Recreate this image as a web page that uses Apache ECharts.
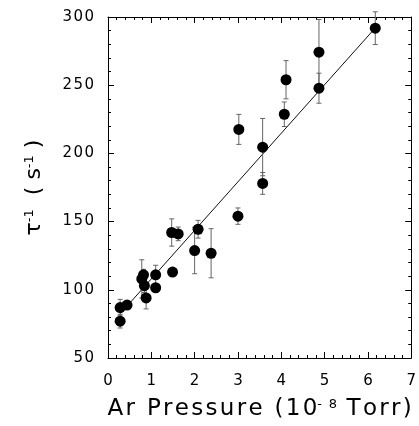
<!DOCTYPE html>
<html>
<head>
<meta charset="utf-8">
<script src="https://cdn.jsdelivr.net/npm/echarts@6/dist/echarts.min.js"></script>
<style>
  html, body { margin: 0; padding: 0; background: #fff; }
  #chart { width: 419px; height: 426px; }
</style>
</head>
<body>
<div id="chart"></div>
<script>
// Ar pressure (10^-8 Torr), decay rate tau^-1 (s^-1), error bar half-length
const pressure = [0.28, 0.28, 0.44, 0.78, 0.82, 0.84, 0.88, 1.1, 1.1, 1.49, 1.47, 1.62, 2.0, 2.08, 2.38, 3.0, 3.02, 3.57, 3.57, 4.07, 4.11, 4.87, 4.87, 6.17]
const rate = [87, 77, 88.8, 108, 111, 103, 94, 111, 101.5, 113, 142, 141, 128.8, 144.4, 126.8, 154, 217.6, 204.6, 178, 228.7, 254, 247.8, 274.2, 291.8]
const rateErr = [6, 5, 3, 14, 4, 5, 8, 7, 3, 3, 10, 5, 17, 6.5, 18, 6, 11, 21, 8, 9, 14, 11, 24, 12]

// linear fit end points
const fitX = [0.27, 6.17]
const fitY = [82, 292]

const xTicks = [0, 1, 2, 3, 4, 5, 6, 7]
const yTicks = [50, 100, 150, 200, 250, 300]

const font = 'DejaVu Sans'

// the original typesetting is letter-spaced; widen with hair spaces
const spaced = (s) => String(s).split('').join('\u200A')

const myChart = echarts.init(document.getElementById('chart'))

const points = pressure.map((p, i) => [p, rate[i]])
const bars = pressure.map((p, i) => [p, rate[i] - rateErr[i], rate[i] + rateErr[i]])
const fitLine = fitX.map((x, i) => [x, fitY[i]])

const axisCommon = {
  type: 'value',
  axisLine: { show: true, onZero: false, lineStyle: { color: '#000', width: 1 } },
  axisTick: { show: true, inside: true, length: 6, lineStyle: { color: '#000' } },
  minorTick: { show: true, splitNumber: 5, length: 3, lineStyle: { color: '#000' } },
  splitLine: { show: false },
  minorSplitLine: { show: false }
}

const titleRich = (size) => ({
  t: { fontFamily: font, fontSize: size, color: '#000' },
  sup: { fontFamily: font, fontSize: 13, color: '#000', verticalAlign: 'top', padding: [0, 0, 10, 0] }
})

const option = {
  animation: false,
  grid: { left: 108, right: 6, top: 17, bottom: 63 },
  xAxis: [
    Object.assign({}, axisCommon, {
      position: 'bottom',
      min: xTicks[0], max: xTicks[xTicks.length - 1], interval: 1,
      axisLabel: { color: '#000', fontFamily: font, fontSize: 15, margin: 16 },
      name: '{t|' + spaced('Ar Pressure (10') + '}{sup|' + spaced('- 8') + '}{t|' + spaced(' Torr)') + '}',
      nameLocation: 'middle',
      nameGap: 40,
      nameTextStyle: { rich: titleRich(23) }
    }),
    Object.assign({}, axisCommon, {
      position: 'top',
      min: xTicks[0], max: xTicks[xTicks.length - 1], interval: 1,
      axisLabel: { show: false }
    })
  ],
  yAxis: [
    Object.assign({}, axisCommon, {
      position: 'left',
      min: yTicks[0], max: yTicks[yTicks.length - 1], interval: 50,
      axisLabel: { color: '#000', fontFamily: font, fontSize: 15, margin: 14, formatter: (v) => spaced(v) },
      name: '{t|τ}{sup|-1}{t|  ( s}{sup|-1}{t| )}',
      nameLocation: 'middle',
      nameRotate: 90,
      nameGap: 62,
      nameTextStyle: { rich: titleRich(22) }
    }),
    Object.assign({}, axisCommon, {
      position: 'right',
      min: yTicks[0], max: yTicks[yTicks.length - 1], interval: 50,
      axisLabel: { show: false }
    })
  ],
  series: [
    {
      type: 'line',
      data: fitLine,
      symbol: 'none',
      lineStyle: { color: '#111', width: 1 },
      z: 1
    },
    {
      type: 'custom',
      data: bars,
      z: 2,
      renderItem: (params, api) => {
        const x = api.value(0)
        const lo = api.coord([x, api.value(1)])
        const hi = api.coord([x, api.value(2)])
        const cap = 2.5
        const style = { stroke: '#666', lineWidth: 1 }
        return {
          type: 'group',
          children: [
            { type: 'line', shape: { x1: lo[0], y1: lo[1], x2: hi[0], y2: hi[1] }, style },
            { type: 'line', shape: { x1: lo[0] - cap, y1: lo[1], x2: lo[0] + cap, y2: lo[1] }, style },
            { type: 'line', shape: { x1: hi[0] - cap, y1: hi[1], x2: hi[0] + cap, y2: hi[1] }, style }
          ]
        }
      }
    },
    {
      type: 'scatter',
      data: points,
      symbol: 'circle',
      symbolSize: 11,
      itemStyle: { color: '#000', opacity: 1 },
      z: 3
    }
  ]
}

myChart.setOption(option)
</script>
</body>
</html>
